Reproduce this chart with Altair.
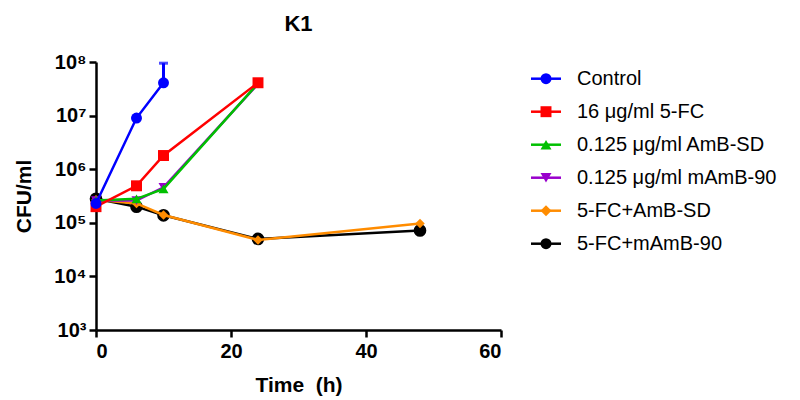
import altair as alt
import pandas as pd

# ---- data ----
series_names = ["Control", "16 μg/ml 5-FC", "0.125 μg/ml AmB-SD",
                "0.125 μg/ml mAmB-90", "5-FC+AmB-SD", "5-FC+mAmB-90"]
series_colors = ["#0000FF", "#FF0000", "#00C000", "#9900CC", "#FF8C00", "#000000"]
series_shapes = ["circle", "square", "triangle-up", "triangle-down", "diamond", "circle"]
series_sizes = [120, 120, 100, 100, 90, 160]

t_control = [0, 6, 10]
cfu_control = [2.3e5, 9.0e6, 4.1e7]
t_5fc = [0, 6, 10, 24]
cfu_5fc = [2.0e5, 4.9e5, 1.8e6, 4.1e7]
t_amb = [0, 6, 10, 24]
cfu_amb = [2.6e5, 2.8e5, 4.3e5, 4.0e7]
t_mamb = [0, 6, 10, 24]
cfu_mamb = [2.6e5, 2.6e5, 4.6e5, 3.9e7]
t_combo = [0, 6, 10, 24, 48]
cfu_fc_amb = [2.7e5, 2.3e5, 1.4e5, 4.8e4, 9.7e4]
cfu_fc_mamb = [2.8e5, 2.0e5, 1.38e5, 5.0e4, 7.2e4]

err_t = [10]
err_lo = [4.1e7]
err_hi = [9.5e7]

series_times = [t_control, t_5fc, t_amb, t_mamb, t_combo, t_combo]
series_values = [cfu_control, cfu_5fc, cfu_amb, cfu_mamb, cfu_fc_amb, cfu_fc_mamb]

rows = []
for name, ts, vs in zip(series_names, series_times, series_values):
    for t, v in zip(ts, vs):
        rows.append({"series": name, "time": t, "cfu": v})
df = pd.DataFrame(rows)
err_df = pd.DataFrame({"time": err_t, "lo": err_lo, "hi": err_hi})

FONT = "Liberation Sans"

x_scale = alt.Scale(domain=[0, 60], nice=False)
y_scale = alt.Scale(type="log", domain=[1e3, 1e8], nice=False)

sup_expr = ("'10' + ['⁰','¹','²','³','⁴','⁵','⁶','⁷','⁸','⁹']"
            "[round(log(datum.value)/LN10)]")

x_axis = alt.Axis(values=[0, 20, 40, 60], title="Time \u00a0(h)", grid=False,
                  titlePadding=13, labelPadding=4)
y_axis = alt.Axis(values=[1e3, 1e4, 1e5, 1e6, 1e7, 1e8], labelExpr=sup_expr,
                  title="CFU/ml", grid=False, titlePadding=19, labelPadding=3)

X_ENC = alt.X("time:Q", scale=x_scale, axis=x_axis)
Y_ENC = alt.Y("cfu:Q", scale=y_scale, axis=y_axis)

draw_order = [5, 4, 3, 2, 1, 0]
layers = []
for i in draw_order:
    name = series_names[i]
    base = alt.Chart(df).transform_filter(alt.datum.series == name)
    line = base.mark_line(color=series_colors[i], strokeWidth=2.5).encode(x=X_ENC, y=Y_ENC)
    pts = base.mark_point(color=series_colors[i], shape=series_shapes[i],
                          filled=True, opacity=1, size=series_sizes[i]).encode(x=X_ENC, y=Y_ENC)
    layers += [line, pts]

err_rule = alt.Chart(err_df).mark_rule(color=series_colors[0], strokeWidth=3).encode(
    x=X_ENC, y=alt.Y("lo:Q", scale=y_scale, axis=y_axis), y2="hi:Q")
err_cap = alt.Chart(err_df).mark_tick(color=series_colors[0], orient="horizontal",
                                      size=9, thickness=3).encode(
    x=X_ENC, y=alt.Y("hi:Q", scale=y_scale, axis=y_axis))
layers += [err_rule, err_cap]

main = alt.layer(*layers).properties(
    width=405, height=268,
    title=alt.Title("K1", fontSize=22, fontWeight="bold", font=FONT,
                    offset=16, anchor="middle"))

# ---- manual legend ----
leg_df = pd.DataFrame({"series": series_names, "idx": list(range(len(series_names)))})
leg_y = alt.Y("idx:Q", scale=alt.Scale(domain=[-0.506, 7.615], reverse=True, nice=False,
                                       zero=False), axis=None)
leg_xs = alt.Scale(domain=[0, 240], nice=False, zero=False)
col_enc = alt.Color("series:N", scale=alt.Scale(domain=series_names, range=series_colors),
                    legend=None)
leg_base = alt.Chart(leg_df)
leg_rule = leg_base.mark_rule(strokeWidth=2.5).encode(
    x=alt.X(datum=0, type="quantitative", scale=leg_xs, axis=None),
    x2=alt.X2(datum=30), y=leg_y, color=col_enc)
leg_pts = leg_base.mark_point(filled=True, opacity=1).encode(
    x=alt.X(datum=15, type="quantitative", scale=leg_xs, axis=None),
    y=leg_y, color=col_enc,
    shape=alt.Shape("series:N", scale=alt.Scale(domain=series_names, range=series_shapes),
                    legend=None),
    size=alt.Size("series:N", scale=alt.Scale(domain=series_names, range=series_sizes),
                  legend=None))
leg_text = leg_base.mark_text(align="left", baseline="middle", font=FONT,
                              fontSize=20, color="black").encode(
    x=alt.X(datum=46, type="quantitative", scale=leg_xs, axis=None),
    y=leg_y, text="series:N")
legend = alt.layer(leg_rule, leg_pts, leg_text).properties(width=240, height=268)

chart = alt.hconcat(main, legend, spacing=26).configure_view(
    strokeWidth=0, stroke="transparent").configure_axis(
    domainColor="black", domainWidth=2.5, tickColor="black", tickWidth=2.5, tickSize=7,
    labelFont=FONT, labelFontWeight="bold", labelFontSize=20, labelColor="black",
    titleFont=FONT, titleFontWeight="bold", titleFontSize=21, titleColor="black")

chart.save("out.html", embed_options={"renderer": "svg", "actions": False})
